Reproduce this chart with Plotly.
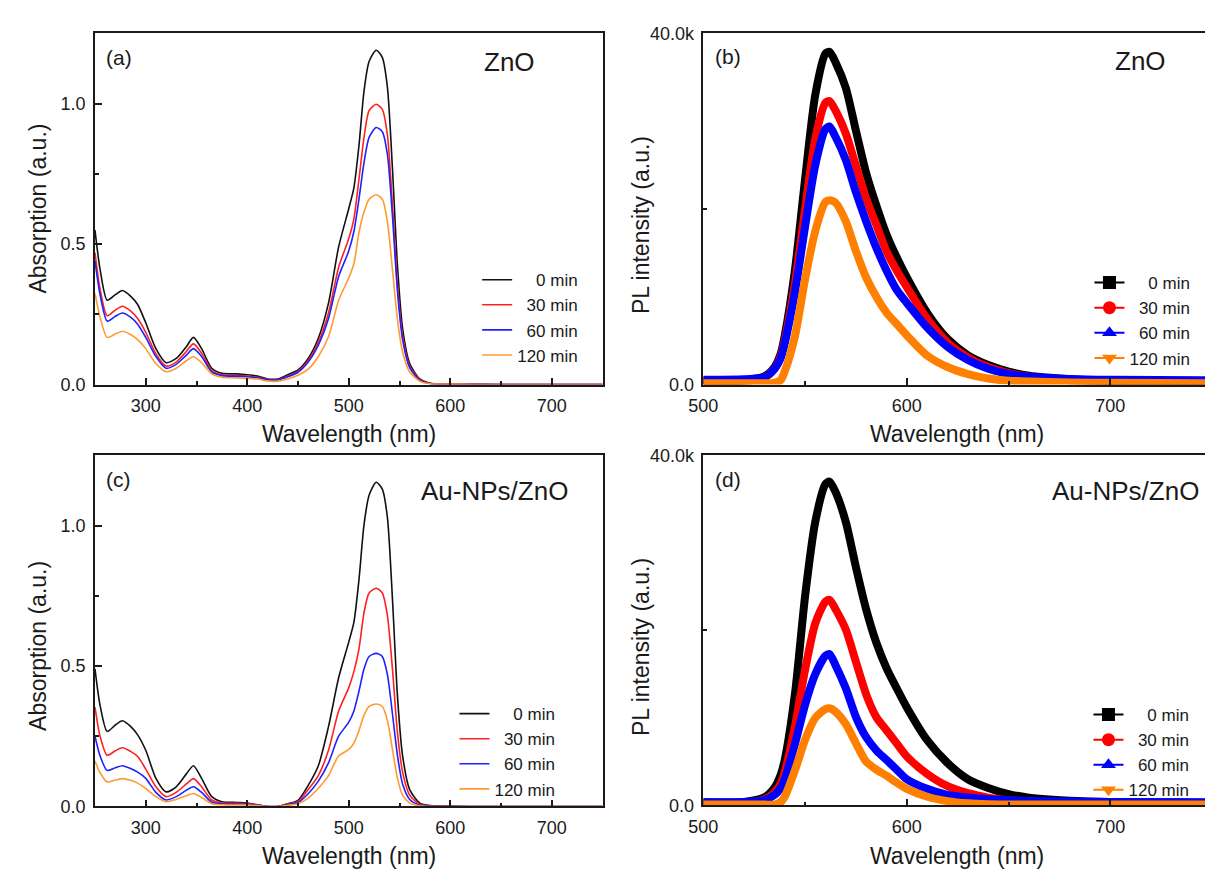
import plotly.graph_objects as go

# ---------------- data ----------------
labels = ["0 min", "30 min", "60 min", "120 min"]
legend_text = ["\u00a0\u00a0\u00a0\u00a00 min", "\u00a0\u00a030 min", "\u00a0\u00a060 min", "120 min"]

wl_abs = [250, 255, 262, 270, 277, 285, 292, 300, 310, 320, 330, 340, 347, 355, 365, 375, 390,
          400, 410, 420, 430, 440, 450, 460, 470, 480, 490, 500, 505, 510, 515, 520, 527, 533,
          538, 543, 548, 553, 560, 570, 580, 600, 620, 650, 700, 750]

abs_zno_0 = [0.55, 0.41, 0.30, 0.32, 0.335, 0.315, 0.285, 0.22, 0.128, 0.078, 0.093, 0.135, 0.168, 0.128, 0.058, 0.04, 0.038,
             0.035, 0.03, 0.02, 0.02, 0.035, 0.052, 0.093, 0.165, 0.29, 0.49, 0.627, 0.70, 0.85, 1.045, 1.15, 1.19, 1.165,
             1.06, 0.77, 0.42, 0.20, 0.075, 0.02, 0.005, 0.003, 0.002, 0.0, 0.0, 0.0]
abs_zno_30 = [0.47, 0.34, 0.245, 0.265, 0.279, 0.262, 0.235, 0.186, 0.11, 0.066, 0.08, 0.118, 0.145, 0.112, 0.05, 0.035, 0.033,
              0.03, 0.026, 0.018, 0.018, 0.03, 0.047, 0.085, 0.15, 0.255, 0.418, 0.52, 0.59, 0.73, 0.88, 0.975, 0.998, 0.98,
              0.89, 0.64, 0.35, 0.174, 0.065, 0.017, 0.004, 0.002, 0.001, 0.0, 0.0, 0.0]
abs_zno_60 = [0.44, 0.32, 0.226, 0.243, 0.255, 0.24, 0.215, 0.168, 0.10, 0.058, 0.072, 0.105, 0.128, 0.10, 0.045, 0.032, 0.03,
              0.028, 0.024, 0.017, 0.017, 0.028, 0.044, 0.08, 0.14, 0.235, 0.385, 0.476, 0.545, 0.66, 0.79, 0.88, 0.915, 0.90,
              0.82, 0.60, 0.33, 0.16, 0.06, 0.015, 0.004, 0.002, 0.001, 0.0, 0.0, 0.0]
abs_zno_120 = [0.325, 0.24, 0.168, 0.18, 0.19, 0.178, 0.16, 0.128, 0.075, 0.046, 0.058, 0.085, 0.099, 0.078, 0.038, 0.026, 0.024,
               0.022, 0.02, 0.013, 0.012, 0.02, 0.033, 0.055, 0.10, 0.17, 0.30, 0.38, 0.43, 0.54, 0.615, 0.66, 0.676, 0.66,
               0.58, 0.41, 0.23, 0.116, 0.045, 0.012, 0.003, 0.002, 0.001, 0.0, 0.0, 0.0]

abs_au_0 = [0.49, 0.36, 0.267, 0.29, 0.305, 0.285, 0.255, 0.20, 0.10, 0.052, 0.07, 0.116, 0.145, 0.10, 0.035, 0.017, 0.014,
            0.012, 0.006, 0.0, 0.0, 0.01, 0.022, 0.075, 0.145, 0.284, 0.458, 0.586, 0.655, 0.806, 1.003, 1.108, 1.154, 1.13,
            1.03, 0.74, 0.39, 0.18, 0.06, 0.012, 0.003, 0.001, 0.0, 0.0, 0.0, 0.0]
abs_au_30 = [0.354, 0.25, 0.182, 0.198, 0.209, 0.196, 0.178, 0.133, 0.07, 0.035, 0.05, 0.08, 0.099, 0.07, 0.023, 0.012, 0.011,
             0.01, 0.005, 0.0, 0.0, 0.008, 0.018, 0.06, 0.11, 0.20, 0.34, 0.423, 0.48, 0.56, 0.69, 0.76, 0.777, 0.76,
             0.68, 0.49, 0.26, 0.122, 0.04, 0.008, 0.002, 0.0, 0.0, 0.0, 0.0, 0.0]
abs_au_60 = [0.25, 0.18, 0.128, 0.138, 0.145, 0.135, 0.122, 0.10, 0.05, 0.023, 0.035, 0.058, 0.07, 0.05, 0.015, 0.009, 0.008,
             0.008, 0.004, 0.0, 0.0, 0.006, 0.014, 0.045, 0.09, 0.155, 0.25, 0.30, 0.34, 0.41, 0.49, 0.534, 0.545, 0.534,
             0.47, 0.33, 0.18, 0.08, 0.025, 0.005, 0.001, 0.0, 0.0, 0.0, 0.0, 0.0]
abs_au_120 = [0.162, 0.12, 0.087, 0.094, 0.099, 0.093, 0.083, 0.064, 0.035, 0.017, 0.025, 0.038, 0.046, 0.032, 0.01, 0.006, 0.005,
              0.005, 0.003, 0.0, 0.0, 0.004, 0.01, 0.03, 0.065, 0.11, 0.18, 0.203, 0.225, 0.27, 0.325, 0.356, 0.365, 0.356,
              0.307, 0.203, 0.099, 0.04, 0.012, 0.002, 0.0, 0.0, 0.0, 0.0, 0.0, 0.0]

wl_pl = [500, 520, 530, 535, 538, 540, 545, 550, 555, 560, 562, 565, 570, 575, 580, 585, 590, 595,
         600, 610, 620, 630, 640, 650, 660, 680, 700, 750]

pl_zno_0 = [450, 500, 930, 2000, 3500, 5570, 13000, 23400, 33000, 37700, 37900, 36700, 33800, 28900, 24100, 20400, 17100, 14500,
            12200, 8160, 5200, 3340, 2230, 1480, 1000, 600, 400, 300]
pl_zno_30 = [350, 400, 800, 1800, 3200, 5000, 11500, 20000, 28000, 32100, 32300, 31200, 28600, 24900, 21200, 18200, 15200, 13000,
             11100, 7500, 4800, 3100, 2000, 1300, 900, 500, 350, 250]
pl_zno_60 = [550, 600, 850, 1800, 3000, 4700, 10500, 18000, 25000, 29100, 29400, 28200, 25600, 21900, 18600, 15600, 13000, 10800,
             9300, 6500, 4300, 2800, 1800, 1200, 900, 650, 550, 500]
pl_zno_120 = [150, 150, 150, 200, 500, 1500, 5500, 12000, 17500, 20800, 21000, 20700, 18600, 15200, 12200, 10000, 8200, 6900,
              5600, 3300, 2000, 1200, 700, 450, 350, 250, 200, 150]

pl_au_0 = [370, 400, 930, 2050, 3500, 5200, 12700, 23900, 32400, 36700, 37000, 35800, 32400, 27200, 22400, 18600, 15700, 13400,
           11200, 7460, 4850, 3000, 2000, 1300, 900, 550, 400, 300]
pl_au_30 = [300, 320, 700, 1500, 2500, 3800, 9000, 15500, 20800, 23300, 23500, 22400, 20100, 16400, 12700, 10100, 8600, 7100,
            5600, 3600, 2200, 1400, 900, 600, 450, 300, 250, 200]
pl_au_60 = [370, 400, 600, 1200, 2000, 3000, 7000, 11500, 15000, 17100, 17300, 16000, 13400, 10100, 7800, 6300, 5200, 4100,
            3000, 1900, 1200, 900, 700, 600, 500, 450, 400, 370]
pl_au_120 = [100, 100, 100, 100, 400, 1000, 4000, 7500, 10000, 11000, 11100, 10700, 9300, 7100, 5000, 4100, 3400, 2600,
             1900, 1000, 500, 250, 150, 120, 100, 100, 100, 100]

abs_colors = ["#111111", "#ff2020", "#2020ff", "#ff9a30"]
pl_colors = ["#000000", "#ff0000", "#0000ff", "#ff8000"]
pl_symbols = ["square", "circle", "triangle-up", "triangle-down"]

# ---------------- figure ----------------
W, H = 1205, 879
FONT = "Liberation Sans, Arial, sans-serif"
INK = "#1a1a1a"

def px(x):
    return x / W

def py(y):
    return 1 - y / H

fig = go.Figure()

abs_sets = [("x", "y", "legend", [abs_zno_0, abs_zno_30, abs_zno_60, abs_zno_120]),
            ("x3", "y3", "legend3", [abs_au_0, abs_au_30, abs_au_60, abs_au_120])]
for xa, ya, lg, series in abs_sets:
    for i, s in enumerate(series):
        fig.add_trace(go.Scatter(x=wl_abs, y=s, mode="lines", name=legend_text[i],
                                 line=dict(color=abs_colors[i], width=1.6, shape="spline", smoothing=0.7),
                                 xaxis=xa, yaxis=ya, legend=lg, showlegend=True))

pl_sets = [("x2", "y2", "legend2", [pl_zno_0, pl_zno_30, pl_zno_60, pl_zno_120]),
           ("x4", "y4", "legend4", [pl_au_0, pl_au_30, pl_au_60, pl_au_120])]
for xa, ya, lg, series in pl_sets:
    for i, s in enumerate(series):
        fig.add_trace(go.Scatter(x=wl_pl, y=s, mode="lines", name=legend_text[i],
                                 line=dict(color=pl_colors[i], width=8, shape="spline", smoothing=0.7),
                                 xaxis=xa, yaxis=ya, showlegend=False))
    for i in range(4):
        fig.add_trace(go.Scatter(x=[None], y=[None], mode="lines+markers", name=legend_text[i],
                                 line=dict(color=pl_colors[i], width=2),
                                 marker=dict(symbol=pl_symbols[i], size=13, color=pl_colors[i]),
                                 xaxis=xa, yaxis=ya, legend=lg, showlegend=True))

def axis_style(**kw):
    d = dict(showline=True, linecolor=INK, linewidth=1.6, ticks="inside", ticklen=7, tickwidth=1.5,
             tickcolor=INK, showgrid=False, zeroline=False,
             tickfont=dict(family=FONT, size=18, color=INK))
    d.update(kw)
    return d

# domains
dom_ax = [px(81), px(595)]
dom_bx = [px(697), 1.0]
dom_ay = [py(383.3), py(24)]
dom_by = [py(383.3), py(24)]
dom_cy = [py(815), py(455.7)]
dom_dy = [py(814), py(455.7)]

abs_minor_x = dict(ticks="inside", ticklen=4, tickwidth=1.5, tickcolor=INK, tickvals=[350, 450, 550, 650])
abs_minor_y = dict(ticks="inside", ticklen=4, tickwidth=1.5, tickcolor=INK, tickvals=[0.25, 0.75])
pl_minor_x = dict(ticks="inside", ticklen=4, tickwidth=1.5, tickcolor=INK, tickvals=[550, 650])
pl_minor_y = dict(ticks="inside", ticklen=4, tickwidth=1.5, tickcolor=INK, tickvals=[20000])

abs_xticks = [300, 400, 500, 600, 700]
abs_yticks = [0.0, 0.5, 1.0]
abs_yticktext = ["0.0", "0.5", "1.0"]
pl_xticks = [500, 600, 700]
pl_yticks = [0, 40000]
pl_yticktext = ["0.0", "40.0k"]

fig.update_layout(
    width=W, height=H, margin=dict(l=0, r=0, t=0, b=0),
    paper_bgcolor="white", plot_bgcolor="white",
    font=dict(family=FONT, color=INK),
    xaxis=axis_style(domain=dom_ax, range=[250, 750], tickvals=abs_xticks, minor=abs_minor_x,
                     mirror=True, anchor="y", ticklabelstandoff=4),
    yaxis=axis_style(domain=dom_ay, range=[0, 1.25], tickvals=abs_yticks, ticktext=abs_yticktext,
                     minor=abs_minor_y, mirror=True, anchor="x", ticklabelstandoff=4),
    xaxis2=axis_style(domain=dom_bx, range=[500, 746.5], tickvals=pl_xticks, minor=pl_minor_x,
                      mirror=True, anchor="y2", ticklabelstandoff=4),
    yaxis2=axis_style(domain=dom_by, range=[0, 40000], tickvals=pl_yticks, ticktext=pl_yticktext,
                      minor=pl_minor_y, mirror=False, anchor="x2", ticklabelstandoff=4),
    xaxis3=axis_style(domain=dom_ax, range=[250, 750], tickvals=abs_xticks, minor=abs_minor_x,
                      mirror=True, anchor="y3", ticklabelstandoff=4),
    yaxis3=axis_style(domain=dom_cy, range=[0, 1.25], tickvals=abs_yticks, ticktext=abs_yticktext,
                      minor=abs_minor_y, mirror=True, anchor="x3", ticklabelstandoff=4),
    xaxis4=axis_style(domain=dom_bx, range=[500, 746.5], tickvals=pl_xticks, minor=pl_minor_x,
                      mirror=True, anchor="y4", ticklabelstandoff=4),
    yaxis4=axis_style(domain=dom_dy, range=[0, 40000], tickvals=pl_yticks, ticktext=pl_yticktext,
                      minor=pl_minor_y, mirror=False, anchor="x4", ticklabelstandoff=4),
)

leg_common = dict(font=dict(family=FONT, size=17, color=INK), bgcolor="rgba(0,0,0,0)",
                  xanchor="left", yanchor="top", tracegroupgap=0, itemsizing="trace")
fig.update_layout(
    legend=dict(x=px(468), y=py(258), **leg_common),
    legend2=dict(x=px(1088), y=py(261), **leg_common),
    legend3=dict(x=px(445), y=py(702), **leg_common),
    legend4=dict(x=px(1087), y=py(703), **leg_common),
)

ann = []
def add_text(x, y, text, size, angle=0):
    ann.append(dict(x=px(x), y=py(y), xref="paper", yref="paper", text=text, showarrow=False,
                    xanchor="center", yanchor="middle", textangle=angle,
                    font=dict(family=FONT, size=size, color=INK)))

add_text(23, 203.5, "Absorption (a.u.)", 23, -90)
add_text(23, 651, "Absorption (a.u.)", 23, -90)
add_text(634, 220, "PL intensity (a.u.)", 23, -90)
add_text(634, 651.7, "PL intensity (a.u.)", 23, -90)
add_text(338, 434, "Wavelength (nm)", 23)
add_text(954, 434, "Wavelength (nm)", 23)
add_text(338, 866, "Wavelength (nm)", 23)
add_text(954, 866, "Wavelength (nm)", 23)
add_text(105, 49, "(a)", 21)
add_text(722, 48, "(b)", 21)
add_text(105, 480, "(c)", 21)
add_text(722, 480, "(d)", 21)
add_text(501, 53, "ZnO", 26)
add_text(1140, 52, "ZnO", 26)
add_text(486, 492, "Au-NPs/ZnO", 26)
add_text(1125, 492, "Au-NPs/ZnO", 26)
fig.update_layout(annotations=ann)

fig.write_html("out.html",
               config={"displayModeBar": False},
               post_script="document.body.style.margin='0';document.body.style.padding='0';"
                           "document.documentElement.style.overflow='hidden';")
